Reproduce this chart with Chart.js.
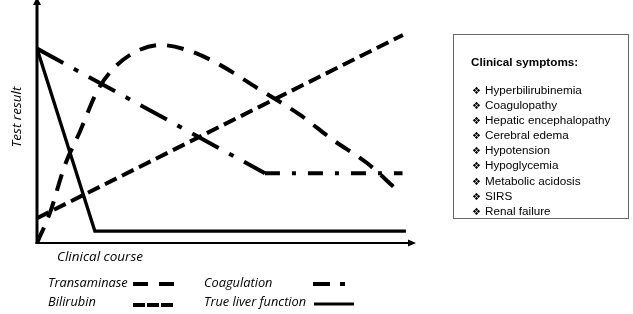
<!DOCTYPE html>
<html>
<head>
<meta charset="utf-8">
<title>Clinical course of liver failure</title>
<script src="https://cdn.jsdelivr.net/npm/chart.js@4.4.0/dist/chart.umd.min.js"></script>
<style>
  html, body { margin: 0; padding: 0; background: #fff; }
  #wrap { position: relative; width: 633px; height: 314px; overflow: hidden; }
  #chart { position: absolute; left: 0; top: 0; }
  #symptoms {
    position: absolute; left: 453px; top: 34px; width: 176px; height: 185px;
    box-sizing: border-box; border: 1px solid #666;
    font-family: "Liberation Sans", Arial, sans-serif; font-size: 11.7px; color: #000;
  }
  #symptoms h4 { position: absolute; left: 17px; top: 20px; margin: 0; font-size: 11.7px; line-height: 14px; font-weight: bold; }
  #symptoms ul { position: absolute; left: 18px; top: 48px; margin: 0; padding: 0; list-style: none; }
  #symptoms li { line-height: 14.1px; white-space: nowrap; }
  #symptoms li span { font-family: "DejaVu Sans", sans-serif; font-size: 10px; display: inline-block; width: 13px; }
</style>
</head>
<body>
<div id="wrap">
  <canvas id="chart" width="633" height="314"></canvas>
  <div id="symptoms">
    <h4>Clinical symptoms:</h4>
    <ul id="symptomList"></ul>
  </div>
</div>
<script>
// values (x: clinical course 0-100, y: test result 0-100)
const transaminaseX = [0, 3.4, 7.4, 11.4, 16.1, 20.6, 26.5, 32.5, 40.5, 48.4, 58.2, 69.6, 78.3, 87.3, 94.7];
const transaminaseY = [0, 12.3, 32.1, 46, 63, 72.4, 79, 81.5, 79, 73.3, 63.8, 52.7, 42.4, 32.9, 22.6];
const bilirubinX = [0, 96.8];
const bilirubinY = [10.2, 85.6];
const coagulationX = [0, 60.3, 96.7];
const coagulationY = [80, 28.7, 28.7];
const liverX = [0, 15.3, 97.6];
const liverY = [80, 4.9, 4.9];

const symptoms = ['Hyperbilirubinemia', 'Coagulopathy', 'Hepatic encephalopathy', 'Cerebral edema',
  'Hypotension', 'Hypoglycemia', 'Metabolic acidosis', 'SIRS', 'Renal failure'];

const list = document.getElementById('symptomList');
symptoms.forEach(s => {
  const li = document.createElement('li');
  li.innerHTML = '<span>\u2756</span>' + s;
  list.appendChild(li);
});

function points(xs, ys) {
  return xs.map((x, i) => ({ x: x, y: ys[i] }));
}

// axes with arrow heads, axis captions and the 2x2 legend under the plot
const decorations = {
  id: 'decorations',
  afterDraw(chart) {
    const { ctx, chartArea: a } = chart;
    ctx.save();
    ctx.strokeStyle = '#000';
    ctx.fillStyle = '#000';
    ctx.lineCap = 'butt';

    // y axis
    ctx.lineWidth = 3;
    ctx.beginPath();
    ctx.moveTo(a.left, a.bottom + 1);
    ctx.lineTo(a.left, a.top + 2);
    ctx.stroke();
    ctx.beginPath();
    ctx.moveTo(a.left, a.top - 3);
    ctx.lineTo(a.left - 4, a.top + 5);
    ctx.lineTo(a.left + 4, a.top + 5);
    ctx.closePath();
    ctx.fill();

    // x axis
    ctx.lineWidth = 2;
    ctx.beginPath();
    ctx.moveTo(a.left - 1.5, a.bottom);
    ctx.lineTo(a.right - 4, a.bottom);
    ctx.stroke();
    ctx.beginPath();
    ctx.moveTo(a.right + 1, a.bottom);
    ctx.lineTo(a.right - 7, a.bottom - 3.5);
    ctx.lineTo(a.right - 7, a.bottom + 3.5);
    ctx.closePath();
    ctx.fill();

    ctx.textBaseline = 'middle';
    ctx.textAlign = 'left';
    ctx.font = 'italic 13.5px "Open Sans", "DejaVu Sans", sans-serif';
    ctx.fillText('Clinical course', 57, 257);

    ctx.save();
    ctx.translate(17, 117);
    ctx.rotate(-Math.PI / 2);
    ctx.textAlign = 'center';
    ctx.fillText('Test result', 0, 0);
    ctx.restore();

    // legend
    ctx.font = 'italic 12.8px "Open Sans", "DejaVu Sans", sans-serif';
    chart.data.datasets.forEach(ds => {
      const lg = ds.legend;
      ctx.fillText(ds.label, lg.tx, lg.ty);
      ctx.save();
      ctx.lineWidth = lg.w;
      ctx.setLineDash(lg.dash);
      ctx.beginPath();
      ctx.moveTo(lg.x0, lg.y);
      ctx.lineTo(lg.x1, lg.y);
      ctx.stroke();
      ctx.restore();
    });
    ctx.restore();
  }
};

new Chart(document.getElementById('chart'), {
  type: 'line',
  data: {
    datasets: [
      {
        label: 'Transaminase',
        data: points(transaminaseX, transaminaseY),
        borderColor: '#000', borderWidth: 4, borderDash: [17, 11],
        cubicInterpolationMode: 'monotone', pointRadius: 0, fill: false,
        legend: { tx: 48, ty: 283, x0: 133, x1: 175, y: 284, w: 4, dash: [15, 11] }
      },
      {
        label: 'Bilirubin',
        data: points(bilirubinX, bilirubinY),
        borderColor: '#000', borderWidth: 4, borderDash: [13, 6],
        pointRadius: 0, fill: false,
        legend: { tx: 48, ty: 302, x0: 133, x1: 174, y: 305, w: 4, dash: [12, 2] }
      },
      {
        label: 'Coagulation',
        data: points(coagulationX, coagulationY),
        borderColor: '#000', borderWidth: 4,
        // the sloped part has longer dashes than the flat part
        segment: { borderDash: c => c.p0DataIndex === 0 ? [30, 12, 5, 12] : [15, 12, 4, 12] },
        pointRadius: 0, fill: false, tension: 0,
        legend: { tx: 204, ty: 283, x0: 313, x1: 345, y: 284, w: 4, dash: [17, 10, 5, 10] }
      },
      {
        label: 'True liver function',
        data: points(liverX, liverY),
        borderColor: '#000', borderWidth: 3.3,
        pointRadius: 0, fill: false, tension: 0,
        legend: { tx: 204, ty: 302, x0: 314, x1: 354, y: 304, w: 3, dash: [] }
      }
    ]
  },
  options: {
    responsive: false,
    animation: false,
    devicePixelRatio: 1,
    layout: { padding: { left: 37, top: 0, right: 218, bottom: 71 } },
    scales: {
      x: { type: 'linear', min: 0, max: 100, display: false },
      y: { type: 'linear', min: 0, max: 100, display: false }
    },
    plugins: {
      legend: { display: false },
      tooltip: { enabled: false }
    },
    elements: { line: { borderCapStyle: 'butt', borderJoinStyle: 'miter' } }
  },
  plugins: [decorations]
});
</script>
</body>
</html>
